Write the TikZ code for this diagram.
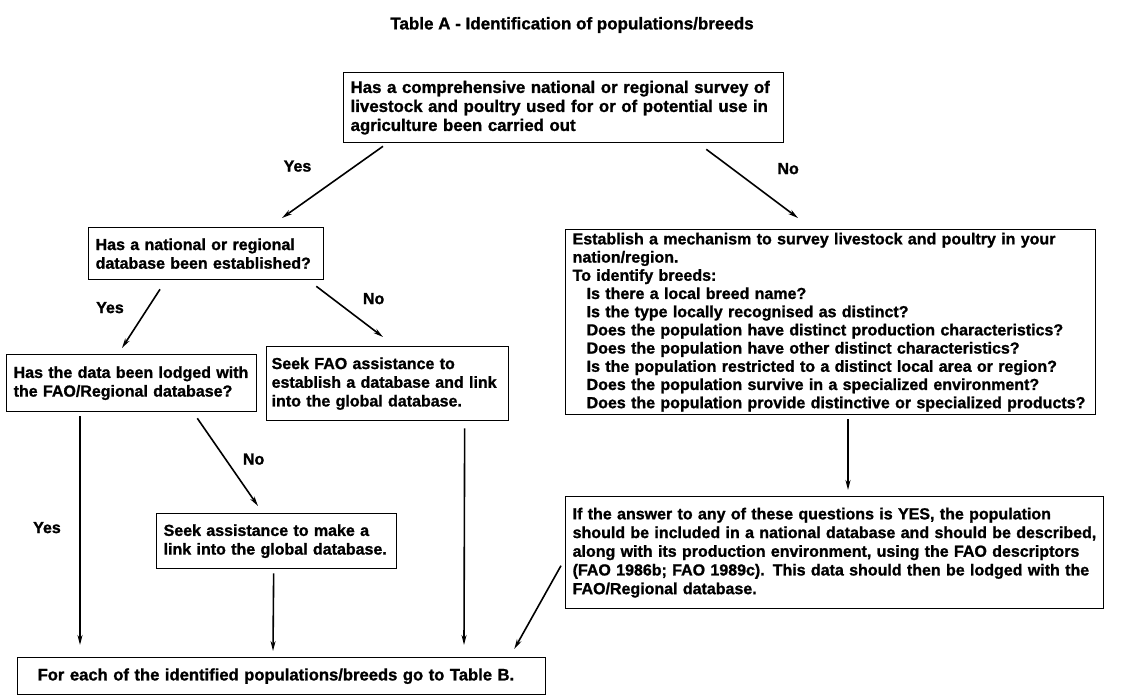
\documentclass[tikz,border=0pt]{standalone}
\usepackage{fontspec}
\setmainfont{Liberation Sans}[BoldFeatures={FakeBold=1.2}]
\usepackage{tikz}
\usetikzlibrary{positioning}
\usetikzlibrary{arrows.meta}

\begin{document}
\begin{tikzpicture}[x=1pt,y=-1pt]
    \tikzstyle{box}=[draw, line width=1.3pt, align=left, anchor=north west,
        inner xsep=7pt, inner ysep=0pt, font=\bfseries\fontsize{16}{18.7}\selectfont]
    \tikzstyle{flow}=[line width=1.6pt, -{Stealth[length=10pt,width=5pt]}]
    \tikzstyle{answer}=[font=\bfseries\fontsize{16}{18.7}\selectfont]
    \useasboundingbox (0,0) rectangle (1138,696);

    \node[answer, font=\bfseries\fontsize{17}{20}\selectfont] (title) at (572,25)
        {Table A - Identification of populations/breeds};

    \node[box, text width=426pt, minimum height=70pt, font=\bfseries\fontsize{16.8}{19}\selectfont]
        (survey) at (343,72)
        {Has a comprehensive national or regional survey of\\
         livestock and poultry used for or of potential use in\\
         agriculture been carried out};
    \node[box, text width=221pt, minimum height=52pt] (natdb) at (88,227)
        {Has a national or regional\\ database been established?};
    \node[box, text width=236pt, minimum height=57pt] (lodged) at (6,354)
        {Has the data been lodged with\\ the FAO/Regional database?};
    \node[box, inner xsep=5pt, text width=232pt, minimum height=74pt] (seekfao) at (266,346)
        {Seek FAO assistance to\\ establish a database and link\\ into the global database.};
    \node[box, text width=516pt, minimum height=185pt, font=\bfseries\fontsize{16}{18.2}\selectfont]
        (mechanism) at (565,229)
        {Establish a mechanism to survey livestock and poultry in your\\
         nation/region.\\
         To identify breeds:\\
         \hspace*{14pt}Is there a local breed name?\\
         \hspace*{14pt}Is the type locally recognised as distinct?\\
         \hspace*{14pt}Does the population have distinct production characteristics?\\
         \hspace*{14pt}Does the population have other distinct characteristics?\\
         \hspace*{14pt}Is the population restricted to a distinct local area or region?\\
         \hspace*{14pt}Does the population survive in a specialized environment?\\
         \hspace*{14pt}Does the population provide distinctive or specialized products?};
    \node[box, text width=226pt, minimum height=55pt] (seeklink) at (156,513)
        {Seek assistance to make a\\ link into the global database.};
    \node[box, text width=524pt, minimum height=112pt] (answeryes) at (565,496)
        {If the answer to any of these questions is YES, the population\\
         should be included in a national database and should be described,\\
         along with its production environment, using the FAO descriptors\\
         (FAO 1986b; FAO 1989c). This data should then be lodged with the\\
         FAO/Regional database.};
    \node[box, inner xsep=20pt, text width=488pt, minimum height=37pt,
        font=\bfseries\fontsize{16.6}{20}\selectfont] (tableb) at (17,657)
        {For each of the identified populations/breeds go to Table B.};

    \draw[flow] ([xshift=40pt,yshift=-3pt]survey.south west) -- ([xshift=194pt,yshift=9pt]natdb.north west)
        node[answer, midway, xshift=-35pt, yshift=16pt] {Yes};
    \draw[flow] ([xshift=-78pt,yshift=-6pt]survey.south east) -- ([xshift=233pt,yshift=11pt]mechanism.north west)
        node[answer, midway, xshift=36pt, yshift=15pt] {No};

    \draw[flow] ([xshift=72pt,yshift=-9pt]natdb.south west) -- ([xshift=116pt,yshift=6pt]lodged.north west)
        node[answer, midway, xshift=-31pt, yshift=11pt] {Yes};
    \draw[flow] ([xshift=-8pt,yshift=-6pt]natdb.south east) -- ([xshift=117pt,yshift=9pt]seekfao.north west)
        node[answer, midway, xshift=24pt, yshift=13pt] {No};

    \draw[flow] ([xshift=74pt,yshift=-4pt]lodged.south west) -- ([xshift=63pt,yshift=12pt]tableb.north west)
        node[answer, midway, xshift=-33pt, yshift=3pt] {Yes};
    \draw[flow] ([xshift=-60pt,yshift=-6pt]lodged.south east) -- ([xshift=102pt,yshift=7pt]seeklink.north west)
        node[answer, midway, xshift=26pt, yshift=3pt] {No};

    \draw[flow] ([xshift=-3pt,yshift=-4pt]seeklink.south) -- ([xshift=256pt,yshift=6pt]tableb.north west);
    \draw[flow] ([xshift=77pt,yshift=-7pt]seekfao.south) -- ([xshift=447pt,yshift=12pt]tableb.north west);
    \draw[flow] ([xshift=283pt,yshift=-4pt]mechanism.south west) -- ([xshift=283pt,yshift=6pt]answeryes.north west);
    \draw[flow] ([xshift=-4pt,yshift=-13pt]answeryes.west) -- ([xshift=-32pt,yshift=8pt]tableb.north east);
\end{tikzpicture}
\end{document}
